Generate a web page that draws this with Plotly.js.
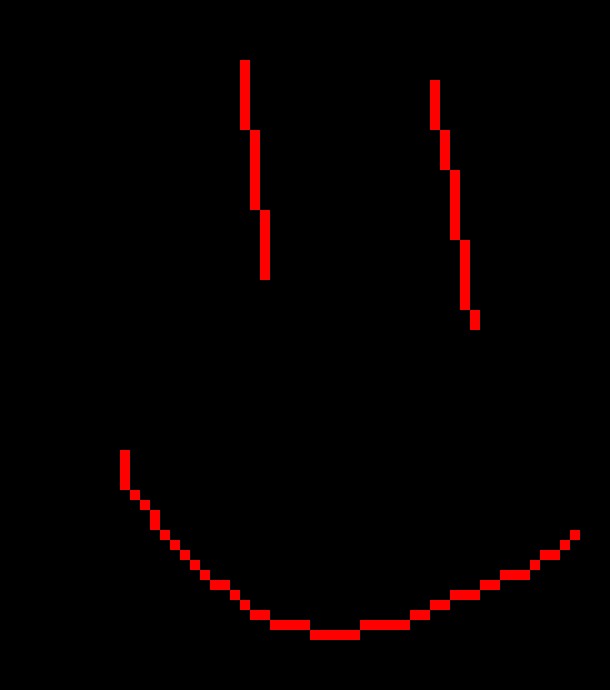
<!DOCTYPE html>
<html>
<head>
<meta charset="utf-8">
<script src="https://cdn.plot.ly/plotly-3.0.1.min.js"></script>
<style>html,body{margin:0;padding:0;background:#000;overflow:hidden}#chart{width:610px;height:690px}</style>
</head>
<body>
<div id="chart"></div>
<script>
// Grid cells that are lit: each run covers columns [colFrom, colTo) and rows [rowFrom, rowTo)
const columnCount = 61;
const rowCount = 69;

const leftEyeColFrom = [24, 25, 26];
const leftEyeColTo   = [25, 26, 27];
const leftEyeRowFrom = [6, 13, 21];
const leftEyeRowTo   = [13, 21, 28];

const rightEyeColFrom = [43, 44, 45, 46, 47];
const rightEyeColTo   = [44, 45, 46, 47, 48];
const rightEyeRowFrom = [8, 13, 17, 24, 31];
const rightEyeRowTo   = [13, 17, 24, 31, 33];

const mouthColFrom = [12, 13, 14, 15, 16, 17, 18, 19, 20, 21, 23, 24, 25, 27, 31, 36, 41, 43, 45, 48, 50, 53, 54, 56, 57];
const mouthColTo   = [13, 14, 15, 16, 17, 18, 19, 20, 21, 23, 24, 25, 27, 31, 36, 41, 43, 45, 48, 50, 53, 54, 56, 57, 58];
const mouthRowFrom = [45, 49, 50, 51, 53, 54, 55, 56, 57, 58, 59, 60, 61, 62, 63, 62, 61, 60, 59, 58, 57, 56, 55, 54, 53];
const mouthRowTo   = [49, 50, 51, 53, 54, 55, 56, 57, 58, 59, 60, 61, 62, 63, 64, 63, 62, 61, 60, 59, 58, 57, 56, 55, 54];

const xCells = Array.from({length: columnCount}, (_, i) => i);
const yCells = Array.from({length: rowCount}, (_, i) => i);
const z = yCells.map(() => xCells.map(() => 0));

function paint(colFrom, colTo, rowFrom, rowTo) {
  colFrom.forEach((c0, i) => {
    for (let r = rowFrom[i]; r < rowTo[i]; r++) {
      for (let c = c0; c < colTo[i]; c++) z[r][c] = 1;
    }
  });
}
paint(leftEyeColFrom, leftEyeColTo, leftEyeRowFrom, leftEyeRowTo);
paint(rightEyeColFrom, rightEyeColTo, rightEyeRowFrom, rightEyeRowTo);
paint(mouthColFrom, mouthColTo, mouthRowFrom, mouthRowTo);

const hiddenAxis = {visible: false, showgrid: false, zeroline: false, fixedrange: true};

Plotly.newPlot('chart', [{
  type: 'heatmap',
  x: xCells,
  y: yCells,
  z: z,
  zmin: 0,
  zmax: 1,
  zsmooth: false,
  showscale: false,
  hoverongaps: false,
  colorscale: [[0, '#000000'], [1, '#ff0000']],
  xgap: 0,
  ygap: 0
}], {
  width: 610,
  height: 690,
  margin: {l: 0, r: 0, t: 0, b: 0, pad: 0},
  paper_bgcolor: '#000000',
  plot_bgcolor: '#000000',
  showlegend: false,
  xaxis: Object.assign({range: [-0.5, columnCount - 0.5]}, hiddenAxis),
  yaxis: Object.assign({range: [rowCount - 0.5, -0.5]}, hiddenAxis)
}, {staticPlot: true, displayModeBar: false});
</script>
</body>
</html>
